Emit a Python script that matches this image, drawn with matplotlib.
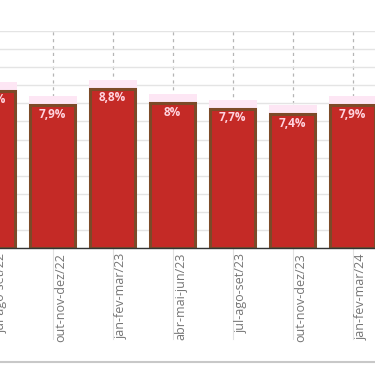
import matplotlib
matplotlib.use("Agg")
import matplotlib.pyplot as plt
from matplotlib.lines import Line2D
import matplotlib.transforms as mtransforms

categories = ["jul-ago-set/22", "out-nov-dez/22", "jan-fev-mar/23", "abr-mai-jun/23",
              "jul-ago-set/23", "out-nov-dez/23", "jan-fev-mar/24"]
values = [8.7, 7.9, 8.8, 8.0, 7.7, 7.4, 7.9]

plt.rcParams['font.family'] = ['Open Sans', 'DejaVu Sans']

fig = plt.figure(figsize=(3.75, 3.66), dpi=100)
ax = fig.add_axes([0, (366 - 248) / 366, 1, 217 / 366])

x = list(range(len(values)))
red = "#c42a26"
brown = "#7c4a28"

# faint pink highlight above bars
ax.bar(x, [v + 0.5 for v in values], width=0.8, color="#fde6f4", zorder=1, linewidth=0)
ax.bar(x, values, width=0.745, color=red, edgecolor=brown, linewidth=2.2, zorder=2)

for xi, v in zip(x, values):
    lab = f"{v:g}".replace('.', ',') + '%'
    ax.annotate(lab, (xi, v), xytext=(0, -6.5), textcoords='offset points',
                ha='center', va='center', color="#ffd3de", fontsize=8.5,
                fontweight='bold', zorder=4, annotation_clip=False)

ax.set_yticks(range(0, 13))
ax.yaxis.grid(True, color="#e4e4e4", linewidth=1.0, zorder=0)
ax.set_axisbelow(True)
for xi in x:
    ax.axvline(xi, color="#b5b5b5", linewidth=0.9, linestyle=(0, (2.5, 3)), zorder=0.5)

ax.set_xticks([])
ax.set_yticks(range(0, 13))
ax.tick_params(left=False, labelleft=False, bottom=False, length=0)

trans = mtransforms.blended_transform_factory(ax.transData, ax.transAxes)
for xi, cat in zip(x, categories):
    ax.annotate(cat, (xi, 0), xycoords=trans, xytext=(1.5, -3.6),
                textcoords='offset points', rotation=90, ha='left', va='top',
                color="#757575", fontsize=9, annotation_clip=False)
    ax.plot([xi, xi], [0, -0.42], transform=trans, color="#e2e2e2", linewidth=0.8,
            clip_on=False, zorder=0)

for s in ['top', 'right', 'left']:
    ax.spines[s].set_visible(False)
ax.spines['bottom'].set_color('#333333')
ax.spines['bottom'].set_linewidth(1.0)

fig.add_artist(Line2D([0, 1], [4 / 366, 4 / 366], transform=fig.transFigure,
                      color="#c8c8c8", linewidth=1.5))

ax.set_xlim(0.125, 6.375)
ax.set_ylim(0, 12)

fig.savefig("out.png", dpi=100)
